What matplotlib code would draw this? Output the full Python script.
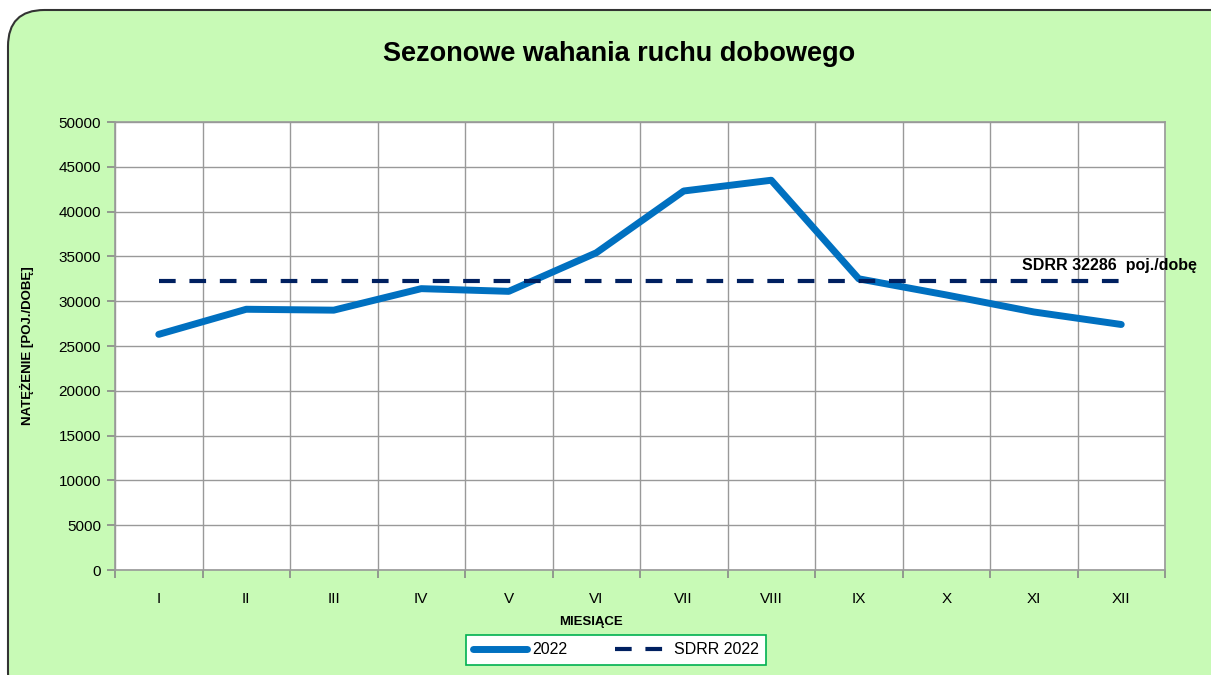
import matplotlib.pyplot as plt
from matplotlib.patches import FancyBboxPatch
import numpy as np

plt.rcParams['font.family'] = ['Liberation Sans', 'DejaVu Sans']

# data
months = ["I", "II", "III", "IV", "V", "VI", "VII", "VIII", "IX", "X", "XI", "XII"]
traffic_2022 = [26300, 29100, 29000, 31400, 31100, 35400, 42300, 43500, 32500, 30700, 28800, 27400]
sdrr_2022 = 32286

fig = plt.figure(figsize=(12.11, 6.75), dpi=100)
fig.patch.set_facecolor('white')

# rounded green background panel
W, H = 1211, 675
panel = FancyBboxPatch((8 / W, -0.05), 1.1, (H - 10) / H + 0.05,
                       boxstyle="round,pad=0,rounding_size=0.03",
                       transform=fig.transFigure, facecolor='#c8fab6',
                       edgecolor='#333333', linewidth=1.5, zorder=-5,
                       mutation_aspect=W / H)
fig.patches.append(panel)

ax = fig.add_axes([115 / W, 1 - 570 / H, 1050 / W, 448 / H])
ax.set_facecolor('white')

x = np.arange(len(months))
ax.plot(x, traffic_2022, color='#0070c0', linewidth=5, label='2022', zorder=3,
        solid_capstyle='round')
ax.plot(x, [sdrr_2022] * len(months), color='#002060', linewidth=3,
        dashes=(4, 3.3), label='SDRR 2022', zorder=3)

ax.text(9.86, sdrr_2022 + 1700, "SDRR 32286  poj./dobę", fontsize=11.5,
        fontweight='bold', ha='left', va='center', clip_on=False, zorder=4)

ax.set_xlim(-0.5, 11.5)
ax.set_ylim(0, 50000)
ax.set_yticks(np.arange(0, 50001, 5000))
ax.set_xticks(x)
ax.set_xticklabels(months)
ax.set_xticks(np.arange(-0.5, 12, 1), minor=True)
ax.tick_params(axis='x', which='major', length=0, pad=16, labelsize=11)
ax.tick_params(axis='x', which='minor', length=6, color='#888888', width=1.2)
ax.tick_params(axis='y', length=6, color='#888888', width=1.2, labelsize=11, pad=4)

ax.grid(True, axis='y', color='#999999', linewidth=1)
ax.grid(True, axis='x', which='minor', color='#999999', linewidth=1)
ax.set_axisbelow(True)
for s in ax.spines.values():
    s.set_color('#999999')
    s.set_linewidth(1.2)

ax.set_ylabel("NATĘŻENIE [POJ./DOBĘ]", fontsize=9.5, fontweight='bold', labelpad=18)
fig.text(591 / W, 1 - 622 / H, "MIESIĄCE", fontsize=9.5, fontweight='bold',
         ha='center', va='center')

fig.text(619 / W, 1 - 54 / H, "Sezonowe wahania ruchu dobowego", fontsize=19.5,
         fontweight='bold', ha='center', va='center')

leg = ax.legend(loc='center', bbox_to_anchor=(616 / W, 1 - 650 / H),
                bbox_transform=fig.transFigure, ncol=2, frameon=True,
                fancybox=False, edgecolor='#00b050', fontsize=11.5,
                handlelength=3.4, handletextpad=0.3, columnspacing=3.0,
                borderpad=0.45, framealpha=1)
leg.get_frame().set_linewidth(1.2)

fig.savefig("out.png", dpi=100, facecolor=fig.get_facecolor())
